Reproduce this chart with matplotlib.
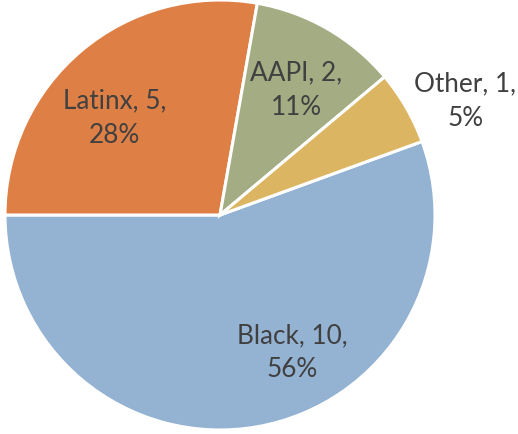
import matplotlib.pyplot as plt

groups = ['Black', 'Latinx', 'AAPI', 'Other']
counts = [10, 5, 2, 1]
pct_labels = ['56%', '28%', '11%', '5%']
colors = ['#94B3D3', '#DE8046', '#A3AC82', '#DCB562']

# label positions in data units (pie radius = 1)
label_xy = [(0.335, -0.64), (-0.49, 0.45), (0.355, 0.58), (1.14, 0.53)]

plt.rcParams['font.family'] = ['Lato', 'DejaVu Sans']

fig = plt.figure(figsize=(5.18, 4.34), dpi=100)
ax = fig.add_axes([5 / 518, 4 / 434, 430 / 518, 430 / 434])

wedges, _ = ax.pie(counts, colors=colors, startangle=20, counterclock=False,
                   radius=1.0, wedgeprops=dict(edgecolor='white', linewidth=2.2))

for name, n, pct, (x, y) in zip(groups, counts, pct_labels, label_xy):
    ax.text(x, y, f'{name}, {n},\n{pct}', ha='center', va='center',
            fontsize=18.8, color='#404040', linespacing=1.45)

ax.set_xlim(-1, 1)
ax.set_ylim(-1, 1)
ax.set_aspect('auto')
ax.axis('off')

fig.savefig('out.png', dpi=100)
